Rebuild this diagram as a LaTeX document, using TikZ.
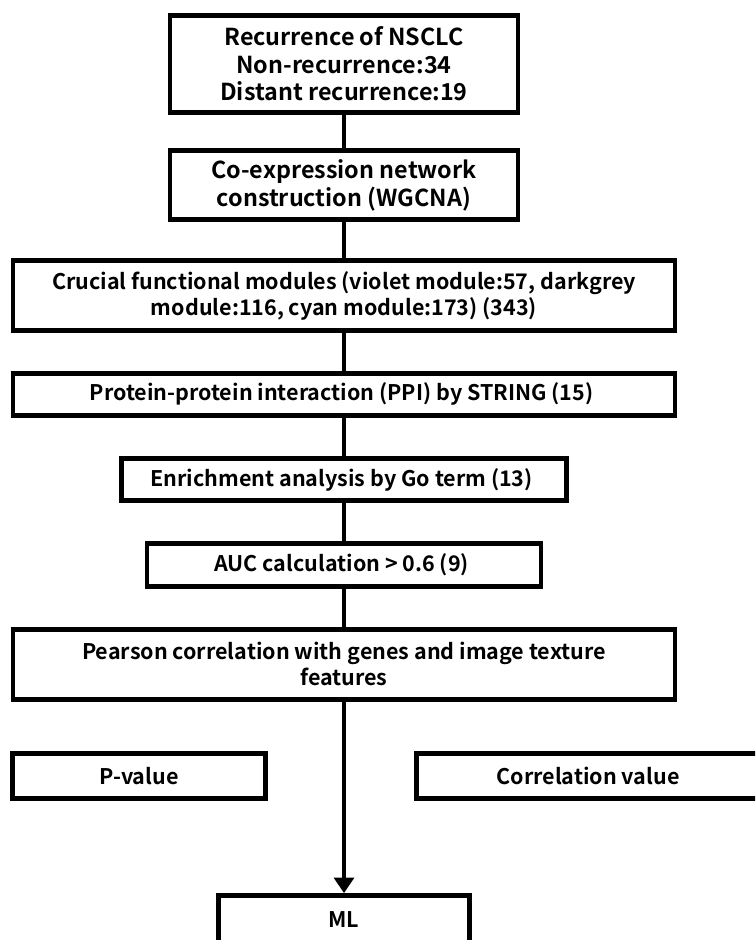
\documentclass[tikz,border=0pt]{standalone}
\usepackage{fontspec}
\setmainfont{Noto Sans CJK KR}[BoldFont={* Bold}]
\usepackage{tikz}
\usetikzlibrary{arrows.meta,positioning}

\begin{document}
\begin{tikzpicture}[
  stepbox/.style={
    rectangle,
    draw=black,
    fill=white,
    line width=3.5pt,
    inner sep=0pt,
    align=center,
    font=\bfseries\fontsize{15.3}{18.5}\selectfont
  },
  topbox/.style={
    stepbox,
    font=\bfseries\fontsize{16.6}{19.5}\selectfont
  },
  link/.style={
    draw=black,
    line width=3.5pt
  }
]

\useasboundingbox (0,0) rectangle (18.875,-23.5);
\clip (0,0) rectangle (18.875,-23.5);

% --- MAIN PIPELINE ---
\node[topbox, minimum width=8.7cm, minimum height=2.42cm] (recurrence) at (8.6,-1.6) {
    Recurrence of NSCLC\\
    Non-recurrence:34\\
    Distant recurrence:19
};

\node[topbox, minimum width=8.7cm, minimum height=1.72cm] (coexpr) at (8.6,-4.63) {
    Co-expression network\\
    construction (WGCNA)
};

\node[stepbox, minimum width=16.55cm, minimum height=1.75cm] (modules) at (8.6,-7.39) {
    Crucial functional modules (violet module:57, darkgrey\\
    module:116, cyan module:173) (343)
};

\node[stepbox, minimum width=16.55cm, minimum height=1.05cm] (ppi) at (8.6,-9.86) {
    Protein-protein interaction (PPI) by STRING (15)
};

\node[stepbox, minimum width=11.12cm, minimum height=1.05cm] (enrich) at (8.6,-11.99) {
    Enrichment analysis by Go term (13)
};

\node[stepbox, minimum width=9.85cm, minimum height=1.07cm] (auc) at (8.6,-14.13) {
    AUC calculation > 0.6 (9)
};

\node[stepbox, minimum width=16.55cm, minimum height=1.75cm] (pearson) at (8.6,-16.61) {
    Pearson correlation with genes and image texture\\
    features
};

% --- OUTPUTS OF THE CORRELATION ---
\node[stepbox, minimum width=6.32cm, minimum height=1.12cm] (pvalue) at (3.48,-19.4) {P-value};
\node[stepbox, minimum width=8.57cm, minimum height=1.12cm] (corrval) at (14.7,-19.4) {Correlation value};

\node[stepbox, minimum width=6.27cm, minimum height=1.22cm] (ml) at (8.6,-23.0) {ML};

% --- CONNECTORS ---
\draw[link] (recurrence) -- (coexpr);
\draw[link] (coexpr) -- (modules);
\draw[link] (modules) -- (ppi);
\draw[link] (ppi) -- (enrich);
\draw[link] (enrich) -- (auc);
\draw[link] (auc) -- (pearson);
\draw[link, -{Triangle[width=14pt,length=11pt]}] (pearson) -- (ml);

\end{tikzpicture}
\end{document}
